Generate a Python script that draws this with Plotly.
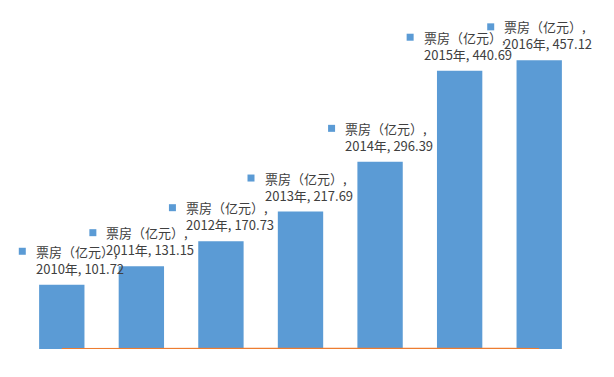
import plotly.graph_objects as go

years = ["2010年", "2011年", "2012年", "2013年", "2014年", "2015年", "2016年"]
box_office = [101.72, 131.15, 170.73, 217.69, 296.39, 440.69, 457.12]
growth = [0.0, 0.289, 0.302, 0.275, 0.362, 0.487, 0.037]
series_name = "票房（亿元）"

bar_color = "#5B9BD5"
line_color = "#ED7D31"
text_color = "#404040"
font_family = "Noto Sans CJK SC, Microsoft YaHei, sans-serif"

fig = go.Figure()
fig.add_trace(go.Bar(x=years, y=box_office, name=series_name,
                     marker=dict(color=bar_color, line=dict(width=0))))
fig.add_trace(go.Scatter(x=years, y=growth, mode="lines", name="增长率",
                         line=dict(color=line_color, width=2)))

label_dx = [-27, -36, -36, -37, -36, -37, -36]
annotations = []
shapes = []
for i, (yr, v) in enumerate(zip(years, box_office)):
    dx = label_dx[i]
    annotations.append(dict(
        x=yr, y=v, xref="x", yref="y",
        text=f"{series_name},<br>{yr}, {v:.2f}",
        showarrow=False, xanchor="left", yanchor="bottom", align="left",
        xshift=dx, yshift=6, borderpad=0,
        font=dict(family=font_family, size=13, color=text_color)))
    shapes.append(dict(
        type="rect", xref="x", yref="y", xsizemode="pixel", ysizemode="pixel",
        xanchor=yr, yanchor=v, x0=dx - 16, x1=dx - 9, y0=30, y1=37,
        fillcolor=bar_color, line=dict(width=0)))

fig.update_layout(
    width=598, height=377,
    margin=dict(l=0, r=27, t=0, b=36),
    paper_bgcolor="white", plot_bgcolor="white",
    showlegend=False, bargap=0.43,
    xaxis=dict(range=[-0.676, 6.5], autorange=False, showticklabels=False, showgrid=False,
               zeroline=False, showline=False, ticks=""),
    yaxis=dict(range=[0, 540], autorange=False, showticklabels=False, showgrid=False,
               zeroline=False, showline=False, ticks=""),
    annotations=annotations, shapes=shapes,
    font=dict(family=font_family),
)

fig.write_html("out.html")
